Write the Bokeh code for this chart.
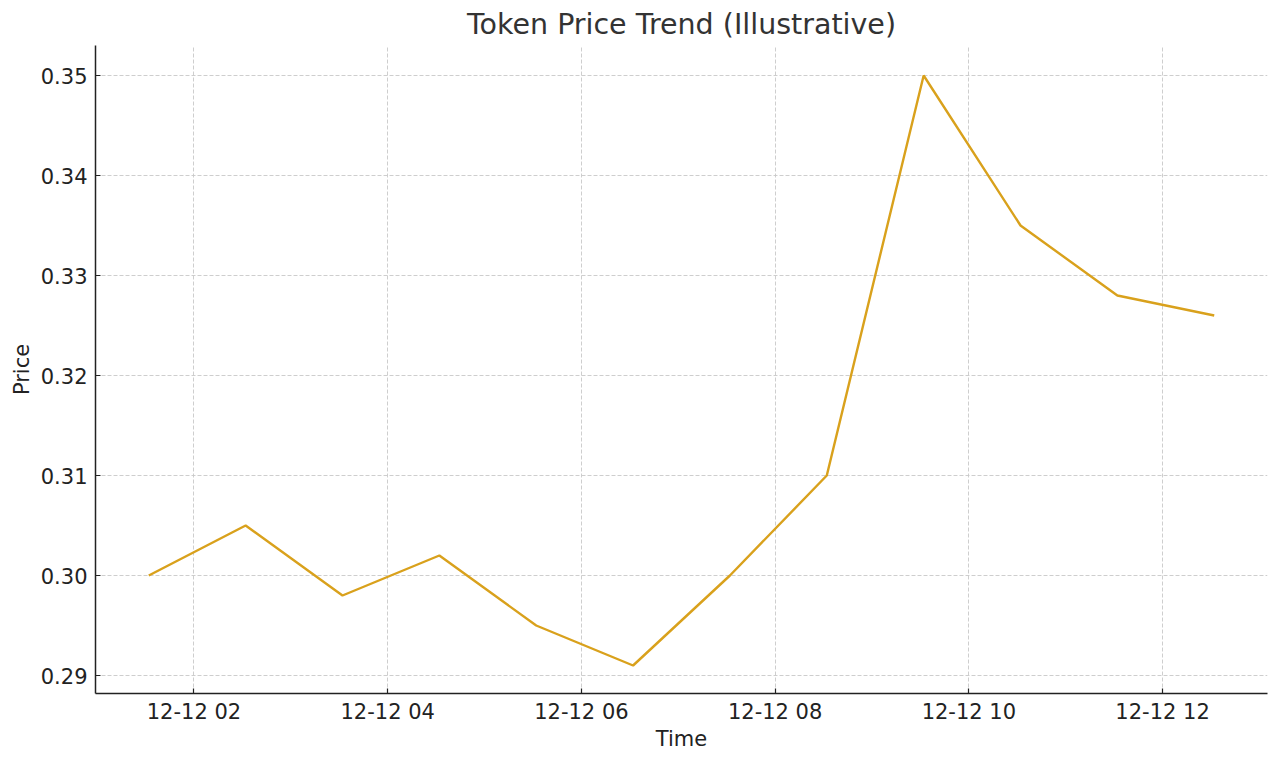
from datetime import datetime
from bokeh.plotting import figure
from bokeh.models import (ColumnDataSource, DatetimeTickFormatter, FixedTicker,
                          NumeralTickFormatter, Range1d)
from bokeh.embed import file_html
from bokeh.resources import INLINE

# ---- data ----
times = ["2024-12-12 01:32", "2024-12-12 02:32", "2024-12-12 03:32", "2024-12-12 04:32",
         "2024-12-12 05:32", "2024-12-12 06:32", "2024-12-12 07:32", "2024-12-12 08:32",
         "2024-12-12 09:32", "2024-12-12 10:32", "2024-12-12 11:32", "2024-12-12 12:32"]
prices = [0.300, 0.305, 0.298, 0.302, 0.295, 0.291, 0.300, 0.310, 0.350, 0.335, 0.328, 0.326]
x_ticks = ["2024-12-12 02:00", "2024-12-12 04:00", "2024-12-12 06:00",
           "2024-12-12 08:00", "2024-12-12 10:00", "2024-12-12 12:00"]
y_ticks = [0.29, 0.30, 0.31, 0.32, 0.33, 0.34, 0.35]

fmt = "%Y-%m-%d %H:%M"
t = [datetime.strptime(s, fmt) for s in times]
def ms(d):
    return (d - datetime(1970, 1, 1)).total_seconds() * 1000.0
tick_ms = [ms(datetime.strptime(s, fmt)) for s in x_ticks]

span = ms(t[-1]) - ms(t[0])
x0 = ms(t[0]) - 0.05 * span
x1 = ms(t[-1]) + 0.05 * span

src = ColumnDataSource(data=dict(t=t, price=prices))

FONT = "DejaVu Sans"
p = figure(x_axis_type="datetime", output_backend="svg", toolbar_location=None,
           frame_width=1172, frame_height=648,
           min_border_left=10, min_border_right=4, min_border_top=37, min_border_bottom=62,
           x_range=Range1d(x0, x1), y_range=Range1d(0.2882, 0.353),
           title="Token Price Trend (Illustrative)")
p.margin = (0, 0, 0, 6)

p.line("t", "price", source=src, line_color="#D9A11C", line_width=2.4)

p.title.align = "center"
p.title.text_font = FONT
p.title.text_font_size = "28.5px"
p.title.text_font_style = "normal"
p.title.text_color = "#333333"

p.outline_line_color = None
p.background_fill_color = "white"
p.border_fill_color = "white"

p.xaxis.ticker = FixedTicker(ticks=tick_ms)
p.xaxis.formatter = DatetimeTickFormatter(hours="%m-%d %H", days="%m-%d %H",
                                          hourmin="%m-%d %H", minutes="%m-%d %H")
p.yaxis.ticker = FixedTicker(ticks=y_ticks)
p.yaxis.formatter = NumeralTickFormatter(format="0.00")

for ax in (p.xaxis, p.yaxis):
    ax.axis_line_color = "#222222"
    ax.axis_line_width = 1.5
    ax.major_tick_in = 5
    ax.major_tick_out = 0
    ax.major_tick_line_color = "#222222"
    ax.major_tick_line_width = 1.2
    ax.minor_tick_line_color = None
    ax.major_label_text_font = FONT
    ax.major_label_text_font_size = "21px"
    ax.major_label_text_color = "#222222"
    ax.axis_label_text_font = FONT
    ax.axis_label_text_font_size = "21px"
    ax.axis_label_text_font_style = "normal"
    ax.axis_label_text_color = "#222222"

p.xaxis.major_label_standoff = 6
p.yaxis.major_label_standoff = 8
p.xaxis.axis_label = "Time"
p.yaxis.axis_label = "Price"
p.xaxis.axis_label_standoff = 0
p.yaxis.axis_label_standoff = 4

for g in (p.xgrid, p.ygrid):
    g.grid_line_color = "#c8c8c8"
    g.grid_line_dash = "4 2"
    g.grid_line_width = 0.9

open("out.html", "w").write(file_html(p, INLINE))
